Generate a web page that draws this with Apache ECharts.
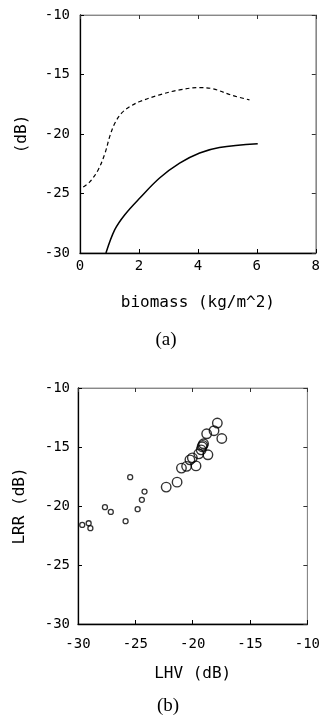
<!DOCTYPE html>
<html>
<head>
<meta charset="utf-8">
<script src="https://cdn.jsdelivr.net/npm/echarts@6/dist/echarts.min.js"></script>
<style>
html,body{margin:0;padding:0;background:#fff;}
#c{width:323px;height:715px;}
</style>
</head>
<body>
<div id="c"></div>
<script>
// Panel (a): backscatter vs biomass
const biomassTicks = [0, 2, 4, 6, 8];
const dashedCurve = [
  [0.11, -24.46], [0.34, -24.0], [0.62, -23.0], [0.85, -21.6], [1.01, -20.2],
  [1.18, -19.1], [1.41, -18.25], [1.69, -17.7], [2.03, -17.27], [2.70, -16.71],
  [3.38, -16.29], [4.06, -16.1], [4.51, -16.2], [5.18, -16.77], [5.75, -17.13]
];
const solidCurve = [
  [0.88, -30.0], [1.18, -28.04], [1.52, -26.78], [2.03, -25.38], [2.70, -23.7],
  [3.38, -22.45], [4.06, -21.6], [4.73, -21.13], [6.03, -20.82]
];
// Panel (b): LRR vs LHV
const smallPoints = [
  [-29.63, -21.6], [-29.07, -21.46], [-28.92, -21.88], [-27.65, -20.1], [-27.14, -20.5],
  [-25.85, -21.29], [-25.45, -17.56], [-24.8, -20.27], [-24.43, -19.48], [-24.2, -18.78]
];
const largePoints = [
  [-22.31, -18.4], [-21.36, -17.98], [-20.98, -16.79], [-20.53, -16.64], [-20.24, -16.09],
  [-20.03, -15.92], [-19.71, -16.6], [-19.47, -15.58], [-19.26, -15.24], [-19.12, -14.86],
  [-19.05, -14.73], [-19.18, -14.98], [-18.67, -15.66], [-18.78, -13.88], [-18.14, -13.62],
  [-17.85, -12.97], [-17.46, -14.28]
];

const mono = 'DejaVu Sans Mono';
const tickFont = 14;
const nameFont = 16;

function mainAxisX(gi, min, max, interval, name, labelMargin) {
  return {
    type: 'value', gridIndex: gi, min, max, interval, position: 'bottom',
    name, nameLocation: 'middle', nameGap: 42,
    nameTextStyle: { fontFamily: mono, fontSize: nameFont, color: '#000' },
    axisLine: { show: true, onZero: false, lineStyle: { color: '#000', width: 1.3 } },
    axisTick: { show: true, inside: true, length: 4, lineStyle: { color: '#000', width: 1 } },
    axisLabel: { fontFamily: mono, fontSize: tickFont, color: '#000', margin: labelMargin },
    splitLine: { show: false }
  };
}
function frameAxisX(gi, min, max, interval) {
  return {
    type: 'value', gridIndex: gi, min, max, interval, position: 'top',
    axisLine: { show: true, onZero: false, lineStyle: { color: '#888', width: 1 } },
    axisTick: { show: true, inside: true, length: 4, lineStyle: { color: '#333', width: 1 } },
    axisLabel: { show: false }, splitLine: { show: false }
  };
}
function mainAxisY(gi, min, max, interval, name, nameGap, labelMargin) {
  return {
    type: 'value', gridIndex: gi, min, max, interval, position: 'left',
    name, nameLocation: 'middle', nameGap, nameRotate: 90,
    nameTextStyle: { fontFamily: mono, fontSize: nameFont, color: '#000' },
    axisLine: { show: true, onZero: false, lineStyle: { color: '#000', width: 1.3 } },
    axisTick: { show: true, inside: true, length: 4, lineStyle: { color: '#000', width: 1 } },
    axisLabel: { fontFamily: mono, fontSize: tickFont, color: '#000', margin: labelMargin },
    splitLine: { show: false }
  };
}
function frameAxisY(gi, min, max, interval) {
  return {
    type: 'value', gridIndex: gi, min, max, interval, position: 'right',
    axisLine: { show: true, onZero: false, lineStyle: { color: '#888', width: 1 } },
    axisTick: { show: true, inside: true, length: 4, lineStyle: { color: '#333', width: 1 } },
    axisLabel: { show: false }, splitLine: { show: false }
  };
}

const chart = echarts.init(document.getElementById('c'), null, { renderer: 'canvas' });
chart.setOption({
  backgroundColor: '#fff',
  animation: false,
  grid: [
    { left: 80, top: 15, width: 237, height: 238, show: true, borderColor: '#999', borderWidth: 1, backgroundColor: 'transparent' },
    { left: 78, top: 388, width: 236, height: 236, show: true, borderColor: '#999', borderWidth: 1, backgroundColor: 'transparent' }
  ],
  xAxis: [
    mainAxisX(0, 0, 8, 2, 'biomass (kg/m^2)', 6),
    frameAxisX(0, 0, 8, 2),
    mainAxisX(1, -30, -10, 5, 'LHV (dB)', 13),
    frameAxisX(1, -30, -10, 5)
  ],
  yAxis: [
    mainAxisY(0, -30, -10, 5, '(dB)', 50, 10),
    frameAxisY(0, -30, -10, 5),
    mainAxisY(1, -30, -10, 5, 'LRR (dB)', 50, 8),
    frameAxisY(1, -30, -10, 5)
  ],
  title: [
    { text: '(a)', left: 166, top: 340, textAlign: 'center', textVerticalAlign: 'middle',
      textStyle: { fontFamily: 'Liberation Serif', fontSize: 19, fontWeight: 'normal', color: '#000' }, padding: 0 },
    { text: '(b)', left: 168, top: 706, textAlign: 'center', textVerticalAlign: 'middle',
      textStyle: { fontFamily: 'Liberation Serif', fontSize: 19, fontWeight: 'normal', color: '#000' }, padding: 0 }
  ],
  series: [
    { type: 'line', xAxisIndex: 0, yAxisIndex: 0, data: dashedCurve, smooth: 0.35, showSymbol: false,
      lineStyle: { color: '#000', width: 1.2, type: [4, 3] } },
    { type: 'line', xAxisIndex: 0, yAxisIndex: 0, data: solidCurve, smooth: 0.35, showSymbol: false,
      lineStyle: { color: '#000', width: 1.5 } },
    { type: 'scatter', xAxisIndex: 2, yAxisIndex: 2, data: smallPoints, symbol: 'circle', symbolSize: 5,
      itemStyle: { color: 'rgba(255,255,255,0)', borderColor: '#000', borderWidth: 1.3 } },
    { type: 'scatter', xAxisIndex: 2, yAxisIndex: 2, data: largePoints, symbol: 'circle', symbolSize: 9.5,
      itemStyle: { color: 'rgba(255,255,255,0)', borderColor: '#000', borderWidth: 1.4 } }
  ]
});
</script>
</body>
</html>
